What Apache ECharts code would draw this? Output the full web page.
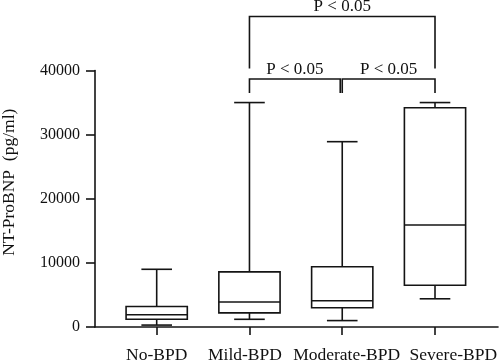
<!DOCTYPE html>
<html><head><meta charset="utf-8">
<script src="https://cdn.jsdelivr.net/npm/echarts@6/dist/echarts.min.js"></script>
<style>html,body{margin:0;padding:0;background:#fff}#c{width:500px;height:360px}</style>
</head><body><div id="c"></div>
<script>
// ---- data ----
const categories = ['No-BPD', 'Mild-BPD', 'Moderate-BPD', 'Severe-BPD'];
const whiskerLow  = [300, 1200, 1000, 4400];
const q1          = [1200, 2200, 3000, 6500];
const median      = [1900, 3900, 4100, 15900];
const q3          = [3200, 8600, 9400, 34200];
const whiskerHigh = [9000, 35000, 28900, 35000];
const yTicks = [0, 10000, 20000, 30000, 40000];
const comparisons = [
  ['Mild-BPD', 'Moderate-BPD', 0, 'P < 0.05'],
  ['Moderate-BPD', 'Severe-BPD', 0, 'P < 0.05'],
  ['Mild-BPD', 'Severe-BPD', 1, 'P < 0.05']
];
const yAxisTitle = 'NT-ProBNP  (pg/ml)';

// ---- build ----
const FONT = '"Liberation Serif", "Times New Roman", serif';
const INK = '#141414';
const LW = 1.6;
// category labels in the original are nudged sideways so they do not collide
const labelNudge = [0, -0.0485, 0.047, 0.197];
const boxData = categories.map((c, i) => [i, whiskerLow[i], q1[i], median[i], q3[i], whiskerHigh[i]]);
const compData = comparisons.map(c => [categories.indexOf(c[0]), categories.indexOf(c[1]), c[2], c[3]]);
const yMax = yTicks[yTicks.length - 1];

const chart = echarts.init(document.getElementById('c'), null, {renderer: 'canvas'});
chart.setOption({
  animation: false,
  backgroundColor: '#fff',
  grid: {left: 95, right: 2, top: 70.5, bottom: 33, containLabel: false, outerBoundsMode: 'none'},
  xAxis: {
    type: 'value', min: -0.665, max: 3.679,
    splitLine: {show: false},
    axisLine: {onZero: false, lineStyle: {color: INK, width: LW}},
    axisTick: {show: true, customValues: categories.map((c, i) => i), length: 8, lineStyle: {color: INK, width: LW}},
    axisLabel: {customValues: categories.map((c, i) => i + labelNudge[i]), formatter: v => categories[Math.round(v)] || '',
      hideOverlap: false,
      margin: 19, color: '#111', fontFamily: FONT, fontSize: 17.5}
  },
  yAxis: {
    type: 'value', min: yTicks[0], max: yMax, interval: yTicks[1] - yTicks[0],
    splitLine: {show: false},
    axisLine: {show: true, onZero: false, lineStyle: {color: INK, width: LW}},
    axisTick: {show: true, length: 9, lineStyle: {color: INK, width: LW}},
    axisLabel: {margin: 15, color: '#111', fontFamily: FONT, fontSize: 16, formatter: v => String(v)},
    name: yAxisTitle, nameLocation: 'middle', nameGap: 77, nameRotate: 90,
    nameTextStyle: {color: '#111', fontFamily: FONT, fontSize: 17.5, padding: [0, 0, 0, 33]}
  },
  series: [
    {
      type: 'custom',
      data: boxData,
      encode: {x: 0, y: [1, 2, 3, 4, 5]},
      renderItem(params, api) {
        const x = api.value(0);
        const band = api.size([1, 0])[0];
        const hw = band * 0.33, cw = band * 0.165;
        const cx = api.coord([x, 0])[0];
        const Y = k => api.coord([x, api.value(k)])[1];
        const yLo = Y(1), yQ1 = Y(2), yMed = Y(3), yQ3 = Y(4), yHi = Y(5);
        const st = {stroke: INK, lineWidth: LW, fill: null};
        const ln = (x1, y1, x2, y2) => ({type: 'line', shape: {x1, y1, x2, y2}, style: st});
        return {type: 'group', children: [
          ln(cx, yQ3, cx, yHi), ln(cx - cw, yHi, cx + cw, yHi),
          ln(cx, yQ1, cx, yLo), ln(cx - cw, yLo, cx + cw, yLo),
          {type: 'rect', shape: {x: cx - hw, y: yQ3, width: 2 * hw, height: yQ1 - yQ3}, style: st},
          ln(cx - hw, yMed, cx + hw, yMed)
        ]};
      }
    },
    {
      type: 'custom',
      data: compData,
      encode: {x: [0, 1]},
      clip: false,
      renderItem(params, api) {
        const a = api.value(0), b = api.value(1), tier = api.value(2);
        const label = compData[params.dataIndex][3];
        const top = api.coord([0, yMax])[1];
        let xa = api.coord([a, 0])[0], xb = api.coord([b, 0])[0];
        if (compData.some(d => d[2] === tier && d[0] === b)) xb -= 2;
        const yLine = tier === 0 ? top + 8.5 : top - 54;
        const yLeg = tier === 0 ? top + 22.5 : top - 2;
        const st = {stroke: INK, lineWidth: LW, fill: null};
        return {type: 'group', children: [
          {type: 'polyline', shape: {points: [[xa, yLeg], [xa, yLine], [xb, yLine], [xb, yLeg]]}, style: st},
          {type: 'text', style: {text: label, x: (xa + xb) / 2, y: yLine - 1, align: 'center', verticalAlign: 'bottom',
            font: '17px ' + FONT, fill: '#111'}}
        ]};
      }
    }
  ]
});
</script></body></html>
